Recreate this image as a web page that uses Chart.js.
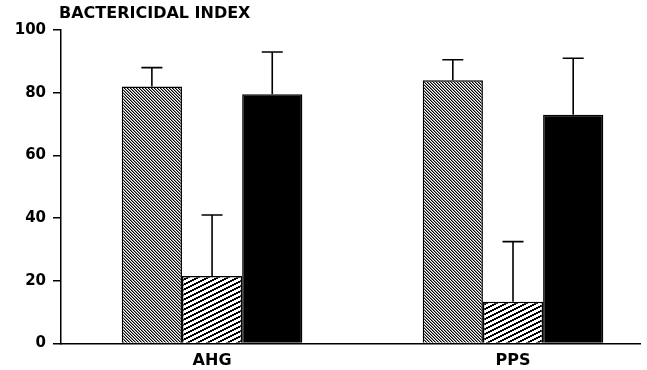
<!DOCTYPE html>
<html>
<head>
<meta charset="utf-8">
<script src="https://cdn.jsdelivr.net/npm/chart.js@4"></script>
<style>
  html, body { margin: 0; padding: 0; background: #fff; }
  #wrap { width: 647px; height: 370px; }
</style>
</head>
<body>
<div id="wrap"><canvas id="myChart"></canvas></div>
<script>
// data
const categories = ['AHG', 'PPS'];
const yTicks = [0, 20, 40, 60, 80, 100];
const meansA = [82, 84];      // dense hatch
const sdA = [6, 6.5];
const meansB = [21.5, 13.3];  // light hatch
const sdB = [19.5, 19.2];
const meansC = [79.5, 73];    // solid
const sdC = [13.5, 18];

const FONT = 'DejaVu Sans';

// pixel hatch: shade(x, y) returns a grey level for each pixel of the tile
const hatch = (w, h, shade) => {
    const c = document.createElement('canvas');
    c.width = w; c.height = h;
    const g = c.getContext('2d');
    const img = g.createImageData(w, h);
    for (let y = 0; y < h; y++) {
        for (let x = 0; x < w; x++) {
            const v = shade(x, y);
            const k = (y * w + x) * 4;
            img.data[k] = img.data[k + 1] = img.data[k + 2] = v;
            img.data[k + 3] = 255;
        }
    }
    g.putImageData(img, 0, 0);
    return g.createPattern(c, 'repeat');
};

// "\\\" dense stripes: black, grey, white
const denseHatch = hatch(3, 3, (x, y) => [0, 140, 255][((x - y) % 3 + 3) % 3]);
// "///" shallow stripes, thinner black
const lightHatch = hatch(10, 5, (x, y) => ((x + 2 * y) % 10) < 4 ? 0 : 255);

const toPoints = (vals) => vals.map((v, i) => ({ x: i, y: v }));

const errorBars = {
    id: 'errorBars',
    afterDatasetsDraw(chart) {
        const { ctx, scales: { y } } = chart;
        ctx.save();
        ctx.strokeStyle = '#000';
        ctx.lineWidth = 1.6;
        chart.data.datasets.forEach((ds, di) => {
            chart.getDatasetMeta(di).data.forEach((bar, i) => {
                const top = y.getPixelForValue(ds.data[i].y + ds.sd[i]);
                ctx.beginPath();
                ctx.moveTo(bar.x, bar.y);
                ctx.lineTo(bar.x, top);
                ctx.moveTo(bar.x - 10.5, top);
                ctx.lineTo(bar.x + 10.5, top);
                ctx.stroke();
            });
        });
        ctx.restore();
    }
};

const heading = {
    id: 'heading',
    afterDraw(chart) {
        const { ctx, chartArea } = chart;
        ctx.save();
        ctx.fillStyle = '#000';
        ctx.font = 'bold 16px "' + FONT + '"';
        ctx.textBaseline = 'middle';
        ctx.fillText('BACTERICIDAL INDEX', chartArea.left - 2, 14);
        ctx.restore();
    }
};

const base = { borderColor: '#000', borderWidth: 1.5, categoryPercentage: 0.6, barPercentage: 1 };

new Chart(document.getElementById('myChart'), {
    type: 'bar',
    data: {
        datasets: [
            { ...base, label: 'A', data: toPoints(meansA), sd: sdA, backgroundColor: denseHatch },
            { ...base, label: 'B', data: toPoints(meansB), sd: sdB, backgroundColor: lightHatch },
            { ...base, label: 'C', data: toPoints(meansC), sd: sdC, backgroundColor: '#000' }
        ]
    },
    options: {
        responsive: true,
        maintainAspectRatio: false,
        animation: false,
        layout: { padding: { top: 30, right: 7, left: 0, bottom: 0 } },
        plugins: { legend: { display: false }, tooltip: { enabled: false } },
        scales: {
            x: {
                type: 'linear',
                offset: false,
                min: -0.502,
                max: 1.422,
                afterBuildTicks: (s) => { s.ticks = categories.map((_, i) => ({ value: i })); },
                afterFit: (s) => { s.height = 26.5; },
                grid: { drawOnChartArea: false, drawTicks: false },
                border: { color: '#000', width: 1.5 },
                ticks: {
                    padding: 8,
                    color: '#000',
                    font: { family: FONT, weight: 'bold', size: 16 },
                    callback: (v) => categories[v]
                }
            },
            y: {
                min: 0,
                max: 100,
                afterBuildTicks: (s) => { s.ticks = yTicks.map((v) => ({ value: v })); },
                afterFit: (s) => { s.width = 61; },
                grid: { drawOnChartArea: false, drawTicks: true, tickLength: 8, color: '#000', lineWidth: 1.5 },
                border: { color: '#000', width: 1.5 },
                ticks: {
                    padding: 7,
                    color: '#000',
                    font: { family: FONT, weight: 'bold', size: 15 }
                }
            }
        }
    },
    plugins: [errorBars, heading]
});
</script>
</body>
</html>
